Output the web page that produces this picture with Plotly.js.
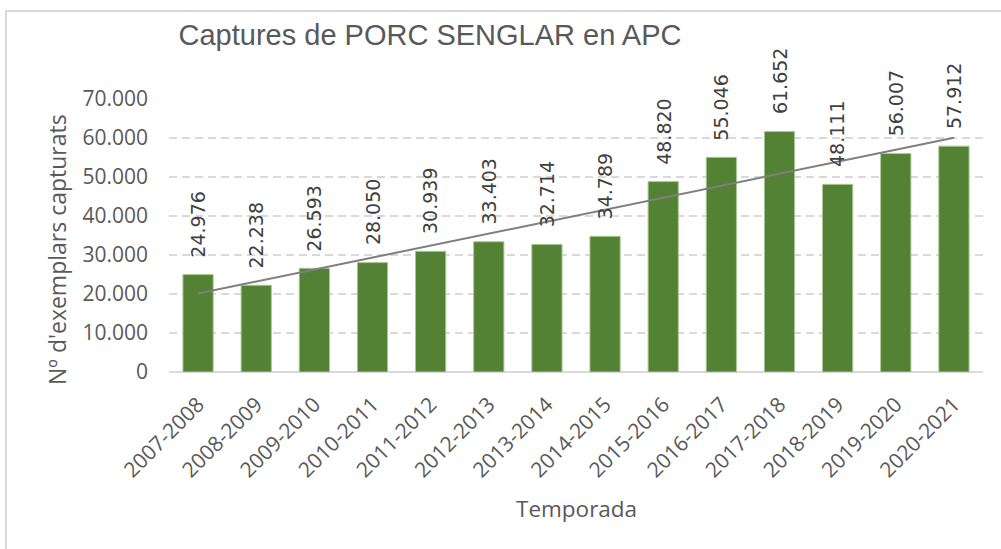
<!DOCTYPE html>
<html>
<head>
<meta charset="utf-8">
<script src="https://cdn.plot.ly/plotly-3.0.1.min.js"></script>
<style>
  html, body { margin: 0; padding: 0; background: #ffffff; }
  #wrap { position: relative; width: 1001px; height: 549px; overflow: hidden; }
  #frame { position: absolute; left: 5px; top: 10px; width: 1100px; height: 700px;
           border: 2px solid #d9d9d9; box-sizing: border-box; pointer-events: none; }
  #chart { position: absolute; left: 0; top: 0; width: 1001px; height: 549px; }
</style>
</head>
<body>
<div id="wrap">
  <div id="chart"></div>
  <div id="frame"></div>
</div>
<script>
const categories = ['2007-2008','2008-2009','2009-2010','2010-2011','2011-2012','2012-2013','2013-2014',
                    '2014-2015','2015-2016','2016-2017','2017-2018','2018-2019','2019-2020','2020-2021'];
const captures = [24976, 22238, 26593, 28050, 30939, 33403, 32714, 34789, 48820, 55046, 61652, 48111, 56007, 57912];
const yTickValues = [0, 10000, 20000, 30000, 40000, 50000, 60000, 70000];

const chartTitle = 'Captures de PORC SENGLAR en APC';
const yTitle = "Nº d'exemplars capturats";
const xTitle = 'Temporada';

// Linear trend line (least squares) derived from the data
const n = captures.length;
const xs = captures.map((_, i) => i + 1);
const mx = xs.reduce((a, b) => a + b, 0) / n;
const my = captures.reduce((a, b) => a + b, 0) / n;
let sxy = 0, sxx = 0;
for (let i = 0; i < n; i++) { sxy += (xs[i] - mx) * (captures[i] - my); sxx += (xs[i] - mx) ** 2; }
const slope = sxy / sxx;
const intercept = my - slope * mx;
const trend = xs.map(x => intercept + slope * x);

const fmt = v => String(Math.round(v)).replace(/\B(?=(\d{3})+(?!\d))/g, '.');

const textColor = '#595959';

const barTrace = {
  type: 'bar',
  x: categories,
  y: captures,
  marker: { color: '#548235', line: { color: '#a9c993', width: 1 } },
  hoverinfo: 'skip'
};

const trendTrace = {
  type: 'scatter',
  mode: 'lines',
  x: categories,
  y: trend,
  line: { color: '#7f7f7f', width: 2 },
  hoverinfo: 'skip'
};

const labelAnnotations = categories.map((c, i) => ({
  x: c, y: captures[i], xref: 'x', yref: 'y',
  text: fmt(captures[i]),
  textangle: -90,
  showarrow: false,
  xanchor: 'center', yanchor: 'bottom',
  yshift: 15,
  font: { family: 'DejaVu Sans', size: 19, color: '#404040' }
}));

const layout = {
  width: 1001, height: 549,
  margin: { l: 169, r: 18, t: 99, b: 177 },
  paper_bgcolor: 'rgba(0,0,0,0)',
  plot_bgcolor: 'rgba(0,0,0,0)',
  showlegend: false,
  separators: ',.',
  bargap: 0.48,
  title: {
    text: chartTitle,
    font: { family: 'Liberation Sans', size: 29, color: textColor },
    xref: 'container', yref: 'container',
    x: 430 / 1001, xanchor: 'center',
    y: 1 - 35 / 549, yanchor: 'middle'
  },
  xaxis: {
    type: 'category',
    tickangle: -45,
    tickfont: { family: 'Open Sans', size: 21, color: textColor },
    showgrid: false,
    showline: false,
    ticks: '',
    ticklabelstandoff: 15,
    fixedrange: true
  },
  yaxis: {
    range: [0, 70000],
    tickvals: yTickValues,
    tickformat: ',d',
    tickfont: { family: 'Open Sans', size: 21, color: textColor },
    showgrid: true,
    gridcolor: '#d9d9d9',
    gridwidth: 1.5,
    griddash: '8px,5px',
    zeroline: true,
    zerolinecolor: '#d9d9d9',
    zerolinewidth: 1.5,
    showline: false,
    ticks: '',
    ticklabelstandoff: 20,
    fixedrange: true
  },
  annotations: labelAnnotations.concat([
    {
      xref: 'paper', yref: 'paper',
      x: (57 - 169) / 814, y: (372 - 250) / 273,
      xanchor: 'center', yanchor: 'middle',
      text: yTitle, textangle: -90, showarrow: false,
      font: { family: 'Open Sans', size: 23, color: textColor }
    },
    {
      xref: 'paper', yref: 'paper',
      x: 0.5, y: (372 - 508) / 273,
      xanchor: 'center', yanchor: 'middle',
      text: xTitle, showarrow: false,
      font: { family: 'Open Sans', size: 22.5, color: textColor }
    }
  ])
};

Plotly.newPlot('chart', [barTrace, trendTrace], layout, { staticPlot: true, displayModeBar: false });
</script>
</body>
</html>
